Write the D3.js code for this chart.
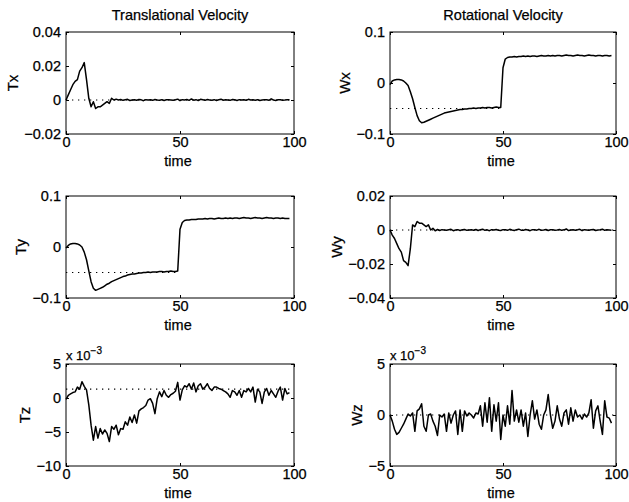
<!DOCTYPE html>
<html>
<head>
<meta charset="utf-8">
<script src="https://cdn.jsdelivr.net/npm/d3@7"></script>
<style>
  body { margin: 0; background: #fff; }
  svg { display: block; font-family: "Liberation Sans", Arial, sans-serif; }
  svg text { fill: #000; stroke: #000; stroke-width: 0.25px; }
  .tick text { font-size: 14.5px; }
  .tick line { stroke: #000; }
</style>
</head>
<body>
<svg width="629" height="502"></svg>
<script>
// samples are one time unit apart, starting at time 0
const tx = [0, 0.003, 0.006, 0.009, 0.011, 0.012, 0.017, 0.019, 0.022, 0.012,
  0.001, -0.004, -0.001, -0.005, -0.004, -0.004, -0.003, -0.002, -0.001, -0.002,
  0.001, 0, 0.0005, 0, 0.0003, -0.0002, 0.0001, 0.0004, -0.0003, 0,
  0.0002, -0.0001, 0.0003, 0.0001, -0.0004, 0.0002, 0, 0.0001, -0.0002, 0.0003,
  0, -0.0001, 0.0002, -0.0003, 0.0001, 0.0002, 0, -0.0002, 0.0001, 0.0005,
  -0.0004, 0.0002, 0, 0.0003, -0.0002, 0.0006, -0.0001, 0.0002, -0.0003, 0.0004,
  0.0001, -0.0002, 0.0003, 0, -0.0001, 0.0002, -0.0003, 0.0001, 0.0004, -0.0001,
  0.0002, 0, -0.0002, 0.0003, 0.0001, -0.0003, 0.0002, 0, 0.0001, -0.0002,
  0.0004, 0, 0.0001, -0.0001, 0.0002, -0.0003, 0, 0.0002, 0.0001, -0.0002,
  0.0007, 0, -0.0003, 0.0001, 0.0002, -0.0001, 0, 0.0002, 0.0001];

const wx = [-0.003, 0.004, 0.006, 0.007, 0.007, 0.006, 0.004, 0.0, -0.005, -0.017,
  -0.031, -0.048, -0.064, -0.074, -0.078, -0.077, -0.075, -0.073, -0.071, -0.069,
  -0.067, -0.065, -0.063, -0.061, -0.059, -0.058, -0.057, -0.056, -0.055, -0.054,
  -0.053, -0.052, -0.052, -0.051, -0.051, -0.050, -0.050, -0.049, -0.050, -0.049,
  -0.049, -0.048, -0.049, -0.048, -0.048, -0.049, -0.048, -0.047, -0.048, -0.048,
  0.030, 0.047, 0.050, 0.051, 0.051, 0.052, 0.051, 0.052, 0.052, 0.053,
  0.052, 0.053, 0.052, 0.053, 0.053, 0.052, 0.053, 0.054, 0.053, 0.053,
  0.054, 0.053, 0.054, 0.053, 0.054, 0.054, 0.053, 0.054, 0.055, 0.054,
  0.054, 0.053, 0.054, 0.055, 0.054, 0.054, 0.053, 0.054, 0.055, 0.054,
  0.054, 0.053, 0.054, 0.054, 0.053, 0.054, 0.054, 0.053, 0.054];

const ty = [-0.002, 0.003, 0.006, 0.007, 0.007, 0.006, 0.004, 0.0, -0.010, -0.025,
  -0.047, -0.068, -0.081, -0.085, -0.083, -0.081, -0.079, -0.076, -0.073, -0.071,
  -0.068, -0.066, -0.064, -0.062, -0.060, -0.058, -0.057, -0.055, -0.054, -0.053,
  -0.053, -0.052, -0.051, -0.051, -0.050, -0.050, -0.049, -0.050, -0.049, -0.049,
  -0.049, -0.048, -0.048, -0.049, -0.048, -0.048, -0.047, -0.048, -0.048, -0.047,
  0.035, 0.048, 0.052, 0.053, 0.053, 0.054, 0.054, 0.054, 0.055, 0.055,
  0.055, 0.056, 0.055, 0.056, 0.056, 0.055, 0.056, 0.057, 0.056, 0.056,
  0.057, 0.056, 0.057, 0.056, 0.057, 0.057, 0.056, 0.057, 0.058, 0.057,
  0.057, 0.056, 0.057, 0.058, 0.057, 0.057, 0.056, 0.057, 0.058, 0.057,
  0.057, 0.056, 0.057, 0.057, 0.056, 0.057, 0.056, 0.056, 0.056];

const wy = [0, -0.003, -0.005, -0.008, -0.011, -0.013, -0.018, -0.019, -0.021, -0.011,
  0.003, 0.002, 0.005, 0.004, 0.004, 0.003, 0.002, 0.003, 0, 0.001,
  -0.0005, 0.0003, -0.0003, 0.0002, 0, -0.0002, 0.0001, 0.0004, -0.0004, 0,
  0.0002, -0.0003, 0.0001, 0.0003, -0.0002, 0, 0.0001, -0.0001, 0.0003, -0.0003,
  0.0002, 0.0005, -0.0002, 0.0001, -0.0004, 0.0002, 0, 0.0003, -0.0001, -0.0003,
  0.0002, 0.0001, -0.0002, 0.0004, 0, -0.0003, 0.0002, 0.0005, -0.0001, -0.0002,
  0.0003, 0, -0.0004, 0.0002, 0.0001, -0.0001, 0.0004, -0.0002, 0, 0.0003,
  -0.0003, 0.0001, 0.0002, -0.0001, 0, 0.0003, -0.0002, 0.0001, 0.0006, -0.0003,
  0, 0.0002, -0.0001, 0.0001, 0.0004, -0.0004, 0.0002, 0, -0.0002, 0.0001,
  0.0003, -0.0003, 0, 0.0002, 0.0005, -0.0002, 0.0001, 0, -0.0001];

// Tz and Wz are in units of 1e-3
const tz = [-0.2, 0.4, 0.6, 0.8, 0.9, 1.6, 1.3, 2.4, 1.7, 1.2,
  -1.0, -4.0, -6.2, -4.2, -5.9, -4.5, -5.3, -4.7, -5.2, -6.4,
  -4.2, -4.6, -4.0, -5.4, -4.5, -4.6, -3.5, -4.0, -2.8, -3.6,
  -2.5, -3.7, -1.9, -1.6, -1.4, -1.1, -0.3, -0.1, -0.8, -2.3,
  -0.1, 0.9, 0.2, 1.1, 0.4, 0.1, 0.5, 0.7, 1.0, 2.3,
  -0.3, 1.2, 1.8, 1.6, 2.1, 1.3, 2.2, 0.9, 1.8, 2.1,
  1.3, 1.6, 2.1, 1.4, 1.1, 1.6, 1.6, 1.4, 1.3, 1.1,
  0.9, 0.6, 0.1, 1.1, 0.9, 0.4, 1.1, 0.1, 1.1, 0.9,
  1.4, 0.9, 1.6, -0.6, 1.3, 0.9, -0.8, 0.9, 1.4, 0.4,
  1.1, 0.6, 0.1, 1.0, 1.6, -0.3, 1.4, 0.6, 0.8];

const wz = [0, -0.6, -1.4, -1.9, -1.7, -1.3, -0.9, -0.4, 0.1, -0.1,
  0.2, -1.6, 0.4, 0.6, 1.1, -1.1, -1.6, 0, 0.1, -0.6,
  -1.1, -2.0, 0, -0.2, 0.1, -1.6, 0.2, -0.8, 0, 0.4,
  -1.9, 0.5, -1.6, 0.4, -0.1, 0.2, 0, -0.3, 0.2, 0.1,
  0.9, -1.1, 1.2, -0.7, 1.7, -1.6, 1.0, -0.6, 1.2, -2.4,
  0, -1.1, 0.9, -0.9, 2.4, -0.6, 0.5, -0.7, 0.5, -1.1,
  0.2, -2.1, 0, 1.4, -0.4, 0.5, -0.9, -1.4, 0, 0.5,
  2.0, 0, -1.3, -0.6, 0.9, -0.4, -1.1, 0.2, 0.5, -0.9,
  0.7, -0.6, 0.5, -0.2, 0, -0.4, 0.1, -0.2, 0.2, 1.5,
  -1.3, 0.4, 0.9, -0.6, -1.9, 1.4, -0.2, -0.3, -0.8];

// desired values (dotted): [startTime, endTime, value]
const txRef = [[0, 100, 0]];
const wxRef = [[0, 49, -0.05]];
const tyRef = [[0, 49, -0.05]];
const wyRef = [[0, 100, 0]];
const tzRef = [[0, 100, 1.3]];
const wzRef = [[0, 100, 0]];

const timeTicks = [0, 50, 100];
const timeTickLabels = ["0", "50", "100"];

const txTicks = [-0.02, 0, 0.02, 0.04];
const txTickLabels = ["\u22120.02", "0", "0.02", "0.04"];
const wxTicks = [-0.1, 0, 0.1];
const wxTickLabels = ["\u22120.1", "0", "0.1"];
const tyTicks = [-0.1, 0, 0.1];
const tyTickLabels = ["\u22120.1", "0", "0.1"];
const wyTicks = [-0.04, -0.02, 0, 0.02];
const wyTickLabels = ["\u22120.04", "\u22120.02", "0", "0.02"];
const tzTicks = [-10, -5, 0, 5];
const tzTickLabels = ["\u221210", "\u22125", "0", "5"];
const wzTicks = [-5, 0, 5];
const wzTickLabels = ["\u22125", "0", "5"];

const columnTitles = ["Translational Velocity", "Rotational Velocity"];

const svg = d3.select("svg");

// subplot layout
const colLeft = [66, 390];
const colWidth = [228, 226];
const rowTop = [32, 196, 364];
const plotH = 102;

const panels = [
  { name: "Tx", values: tx, ref: txRef, domain: [-0.02, 0.04], ticks: txTicks, labels: txTickLabels, col: 0, row: 0 },
  { name: "Wx", values: wx, ref: wxRef, domain: [-0.1, 0.1], ticks: wxTicks, labels: wxTickLabels, col: 1, row: 0 },
  { name: "Ty", values: ty, ref: tyRef, domain: [-0.1, 0.1], ticks: tyTicks, labels: tyTickLabels, col: 0, row: 1 },
  { name: "Wy", values: wy, ref: wyRef, domain: [-0.04, 0.02], ticks: wyTicks, labels: wyTickLabels, col: 1, row: 1 },
  { name: "Tz", values: tz, ref: tzRef, domain: [-10, 5], ticks: tzTicks, labels: tzTickLabels, col: 0, row: 2, exponent: "\u22123" },
  { name: "Wz", values: wz, ref: wzRef, domain: [-5, 5], ticks: wzTicks, labels: wzTickLabels, col: 1, row: 2, exponent: "\u22123" }
];

columnTitles.forEach((t, i) => {
  svg.append("text")
    .attr("x", colLeft[i] + colWidth[i] / 2)
    .attr("y", 20)
    .attr("text-anchor", "middle")
    .style("font-size", "14.5px")
    .text(t);
});

panels.forEach(p => {
  const plotW = colWidth[p.col];
  const g = svg.append("g")
    .attr("transform", `translate(${colLeft[p.col]},${rowTop[p.row]})`);

  const x = d3.scaleLinear().domain([0, 100]).range([0, plotW]);
  const y = d3.scaleLinear().domain(p.domain).range([plotH, 0]);

  // ticks point inward on all four sides, like a matlab box
  g.append("g")
    .attr("transform", `translate(0,${plotH})`)
    .call(d3.axisBottom(x).tickValues(timeTicks)
      .tickFormat((d, i) => timeTickLabels[i])
      .tickSizeInner(-3).tickSizeOuter(0).tickPadding(3));
  g.append("g")
    .call(d3.axisTop(x).tickValues(timeTicks).tickFormat("")
      .tickSizeInner(-3).tickSizeOuter(0));
  const left = g.append("g")
    .call(d3.axisLeft(y).tickValues(p.ticks)
      .tickFormat((d, i) => p.labels[i])
      .tickSizeInner(-3).tickSizeOuter(0).tickPadding(5));
  g.append("g")
    .attr("transform", `translate(${plotW},0)`)
    .call(d3.axisRight(y).tickValues(p.ticks).tickFormat("")
      .tickSizeInner(-3).tickSizeOuter(0));
  g.selectAll(".domain").remove();
  g.selectAll(".tick text").attr("font-family", null).attr("font-size", null);

  g.append("rect")
    .attr("width", plotW)
    .attr("height", plotH)
    .attr("fill", "none")
    .attr("stroke", "#000")
    .attr("stroke-width", 1);

  // dotted desired value
  g.selectAll(".ref")
    .data(p.ref)
    .enter()
    .append("line")
    .attr("class", "ref")
    .attr("x1", d => x(d[0]))
    .attr("x2", d => x(d[1]))
    .attr("y1", d => y(d[2]))
    .attr("y2", d => y(d[2]))
    .attr("stroke", "#000")
    .attr("stroke-width", 1.1)
    .attr("stroke-dasharray", "1.3,4.7");

  const line = d3.line()
    .x((d, i) => x(i))
    .y(d => y(d));

  g.append("path")
    .datum(p.values)
    .attr("d", line)
    .attr("fill", "none")
    .attr("stroke", "#000")
    .attr("stroke-width", 1.5)
    .attr("stroke-linejoin", "round");

  g.append("text")
    .attr("x", plotW / 2 - 2)
    .attr("y", plotH + 32)
    .attr("text-anchor", "middle")
    .style("font-size", "14.5px")
    .text("time");

  // y label sits just left of the widest tick label
  const lb = left.node().getBBox();
  g.append("text")
    .attr("transform", `translate(${lb.x - 6},${plotH / 2}) rotate(-90)`)
    .attr("text-anchor", "middle")
    .style("font-size", "15px")
    .text(p.name);

  if (p.exponent) {
    const ex = g.append("text")
      .attr("x", 0)
      .attr("y", -4)
      .style("font-size", "13px");
    ex.append("tspan").text("x 10");
    ex.append("tspan")
      .attr("dy", -6)
      .style("font-size", "10px")
      .text(p.exponent);
  }
});
</script>
</body>
</html>
